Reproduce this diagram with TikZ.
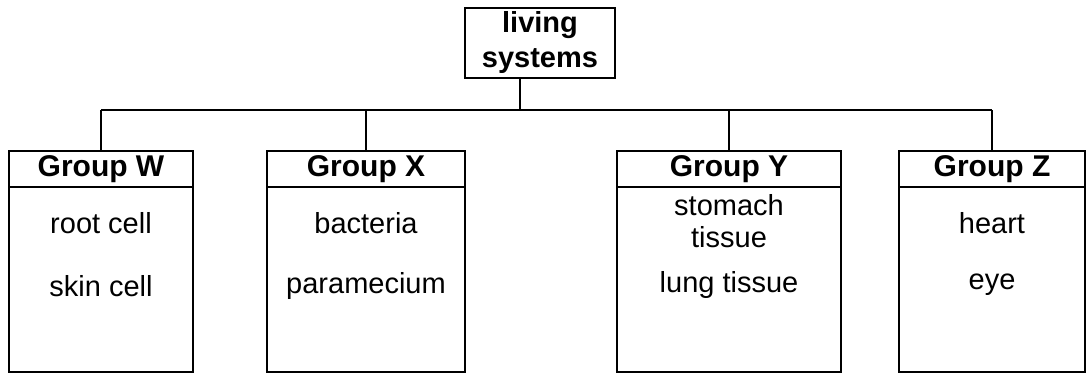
\documentclass[tikz,border=0pt]{standalone}
\usepackage{fontspec}
\setmainfont{Liberation Sans}
\usetikzlibrary{positioning}

\begin{document}
\begin{tikzpicture}[x=1pt, y=-1pt, line width=1.8pt,
    font=\fontsize{29}{33}\selectfont,
    root/.style={draw, align=center, minimum width=150pt, minimum height=70pt,
                 inner sep=0pt, font=\fontsize{29}{35}\selectfont\bfseries},
    head/.style={draw, minimum height=36pt, inner sep=0pt, outer sep=0pt,
                 font=\fontsize{30}{33}\selectfont\bfseries},
    body/.style={draw, minimum height=185pt, inner sep=0pt, outer sep=0pt},
    item/.style={inner sep=1pt, align=center}]
  \useasboundingbox (0,0) rectangle (1089,374);

  % the root of the tree and the bus bar below it
  \node[root] (sys) at (540,43) {living\\systems};
  \coordinate (bus) at (0,110);

  % the four groups: header, body and a drop from the bus
  \foreach \g/\cx/\w in {W/101/184, X/366/198, Y/729/224, Z/992/186}
  {
    \node[head, minimum width=\w] (\g) at (\cx,169) {Group \g};
    \node[body, minimum width=\w, below=0pt of \g] (\g b) {};
    \draw (\g.north) -- (\g.north |- bus);
  }
  \draw ([xshift=-20pt]sys.south) -- ([xshift=-20pt]sys.south |- bus);
  \draw (W.north |- bus) -- (Z.north |- bus);

  % what each group holds
  \node[item] (root cell) at (101,223) {root cell};
  \node[item] (skin cell) at (101,286) {skin cell};
  \node[item] (bacteria) at (366,223) {bacteria};
  \node[item] (paramecium) at (366,286) {paramecium};
  \node[item] (stomach) at (729,221) {stomach\\[-1pt]tissue};
  \node[item] (lung) at (729,285) {lung tissue};
  \node[item] (heart) at (992,223) {heart};
  \node[item] (eye) at (992,285) {eye};
\end{tikzpicture}
\end{document}
